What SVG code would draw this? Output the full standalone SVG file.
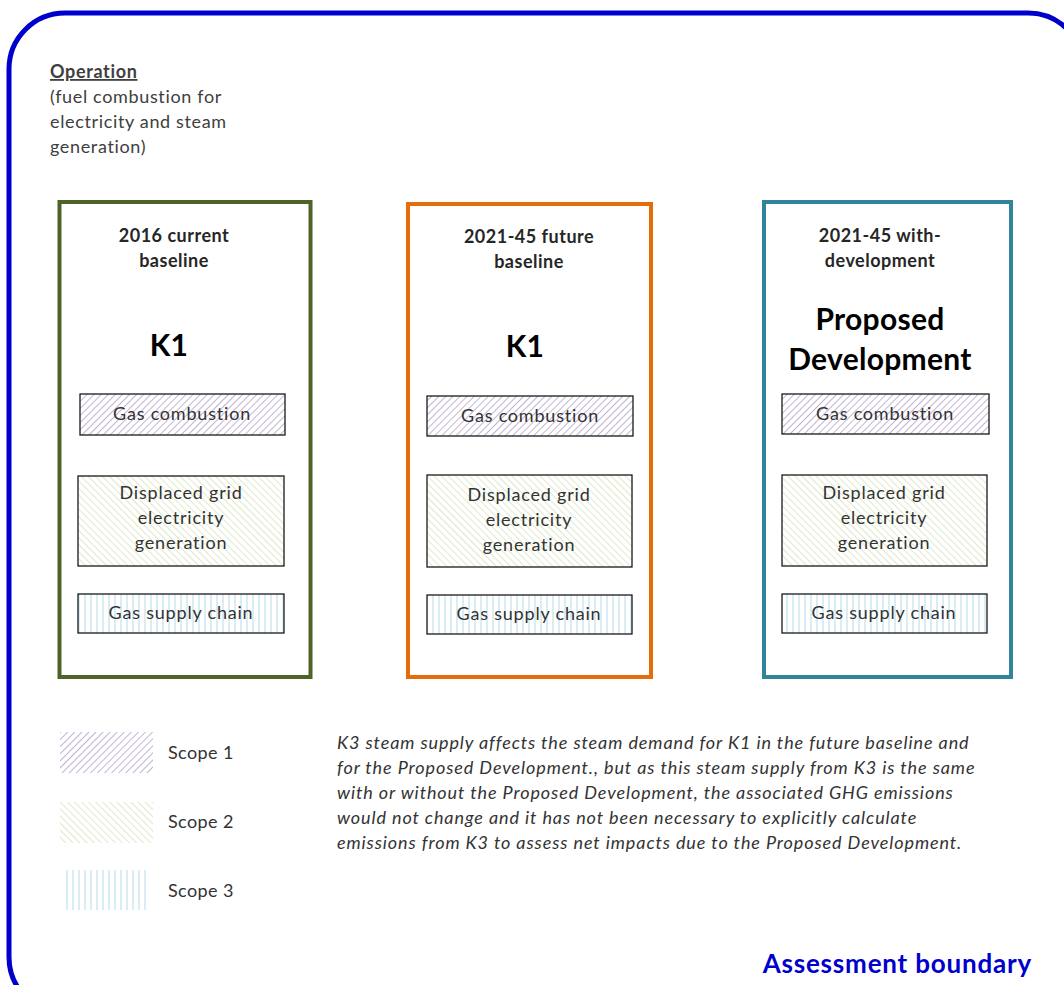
<svg xmlns="http://www.w3.org/2000/svg" width="1064" height="985" viewBox="0 0 1064 985">
<defs>
<pattern id="p1" width="5" height="5" patternUnits="userSpaceOnUse" patternTransform="rotate(45)">
<rect width="5" height="5" fill="#ffffff"/><line x1="0" y1="0" x2="0" y2="5" stroke="#B3A2C7" stroke-width="1.6"/>
</pattern>
<pattern id="p2" width="5" height="5" patternUnits="userSpaceOnUse" patternTransform="rotate(-45)">
<rect width="5" height="5" fill="#ffffff"/><line x1="0" y1="0" x2="0" y2="5" stroke="#D7E4BD" stroke-width="1.6"/>
</pattern>
<pattern id="p3" width="6" height="6" patternUnits="userSpaceOnUse">
<rect width="6" height="6" fill="#ffffff"/><line x1="1" y1="0" x2="1" y2="6" stroke="#C6E4EE" stroke-width="1.3"/>
</pattern>
</defs>
<style>
text{font-family:Lato,"Open Sans",sans-serif;fill:#262626}
.hd{font-size:18px;font-weight:bold;text-anchor:middle;letter-spacing:0.5px}
.big{font-size:30px;font-weight:bold;text-anchor:middle;fill:#000;letter-spacing:0.3px}
.bx{font-size:18px;text-anchor:middle;fill:#333;letter-spacing:0.8px}
.ib{stroke:#1a1a1a;stroke-width:1.3}
.col{fill:#fff;stroke-width:4}
.note{font-size:18px;font-style:italic;fill:#333;letter-spacing:0.9px}
.leg{font-size:18px;fill:#333;letter-spacing:0.4px}
.op{font-size:18px;fill:#404040;letter-spacing:0.65px}
</style>
<rect id="boundary" x="9" y="13" width="1075" height="1000" rx="56" fill="#fff" stroke="#0000CC" stroke-width="5"/>
<g id="operation-label">
<text class="op" x="50" y="78" font-weight="bold" text-decoration="underline">Operation</text>
<text class="op" x="50" y="103">(fuel combustion for</text>
<text class="op" x="50" y="128">electricity and steam</text>
<text class="op" x="50" y="153">generation)</text>
</g>
<g id="col1">
<rect class="col" x="59.5" y="202" width="251" height="475" stroke="#4F6228"/>
<text class="hd" x="174" y="242">2016 current</text>
<text class="hd" x="174" y="267">baseline</text>
<text class="big" x="169" y="356">K1</text>
<rect class="ib" x="80" y="394" width="205" height="41" fill="url(#p1)"/>
<text class="bx" x="182" y="420">Gas combustion</text>
<rect class="ib" x="78" y="476" width="206" height="90" fill="url(#p2)"/>
<text class="bx" x="181" y="499">Displaced grid</text>
<text class="bx" x="181" y="524">electricity</text>
<text class="bx" x="181" y="549">generation</text>
<rect class="ib" x="78" y="594" width="206" height="39" fill="url(#p3)"/>
<text class="bx" x="181" y="619">Gas supply chain</text>
</g>
<g id="col2">
<rect class="col" x="408" y="204" width="243" height="473" stroke="#E46C0A"/>
<text class="hd" x="529" y="243">2021-45 future</text>
<text class="hd" x="529" y="268">baseline</text>
<text class="big" x="525" y="357">K1</text>
<rect class="ib" x="427" y="396" width="206" height="40" fill="url(#p1)"/>
<text class="bx" x="530" y="422">Gas combustion</text>
<rect class="ib" x="427" y="475" width="205" height="92" fill="url(#p2)"/>
<text class="bx" x="529" y="501">Displaced grid</text>
<text class="bx" x="529" y="526">electricity</text>
<text class="bx" x="529" y="551">generation</text>
<rect class="ib" x="427" y="595" width="205" height="39" fill="url(#p3)"/>
<text class="bx" x="529" y="620">Gas supply chain</text>
</g>
<g id="col3">
<rect class="col" x="764" y="202" width="247" height="475" stroke="#31849B"/>
<text class="hd" x="880" y="242">2021-45 with-</text>
<text class="hd" x="880" y="267">development</text>
<text class="big" x="880" y="330">Proposed</text>
<text class="big" x="880" y="370">Development</text>
<rect class="ib" x="782" y="394" width="207" height="40" fill="url(#p1)"/>
<text class="bx" x="885" y="420">Gas combustion</text>
<rect class="ib" x="782" y="475" width="205" height="91" fill="url(#p2)"/>
<text class="bx" x="884" y="499">Displaced grid</text>
<text class="bx" x="884" y="524">electricity</text>
<text class="bx" x="884" y="549">generation</text>
<rect class="ib" x="782" y="594" width="205" height="39" fill="url(#p3)"/>
<text class="bx" x="884" y="619">Gas supply chain</text>
</g>
<g id="legend">
<rect x="60" y="732" width="93" height="41" fill="url(#p1)"/>
<text class="leg" x="168" y="759">Scope 1</text>
<rect x="60" y="802" width="93" height="41" fill="url(#p2)"/>
<text class="leg" x="168" y="828">Scope 2</text>
<rect x="65" y="870" width="84" height="40" fill="url(#p3)"/>
<text class="leg" x="168" y="897">Scope 3</text>
</g>
<g id="note">
<text class="note" x="337" y="749">K3 steam supply affects the steam demand for K1 in the future baseline and</text>
<text class="note" x="337" y="774">for the Proposed Development., but as this steam supply from K3 is the same</text>
<text class="note" x="337" y="799">with or without the Proposed Development, the associated GHG emissions</text>
<text class="note" x="337" y="824">would not change and it has not been necessary to explicitly calculate</text>
<text class="note" x="337" y="849">emissions from K3 to assess net impacts due to the Proposed Development.</text>
</g>
<text x="1032" y="973" text-anchor="end" font-size="26" font-weight="bold" letter-spacing="0.8" style="fill:#0000CC">Assessment boundary</text>
</svg>
